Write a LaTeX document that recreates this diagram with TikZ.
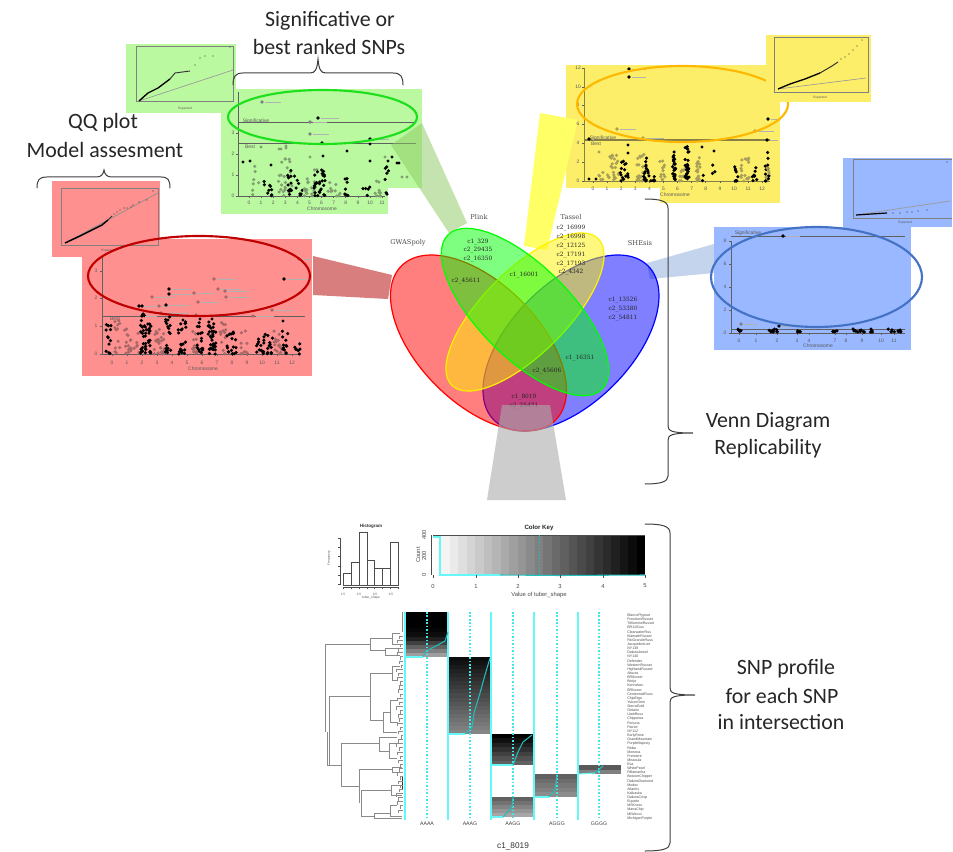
\documentclass[tikz,border=0pt]{standalone}
\usepackage{fontspec}
\setmainfont{Carlito}
\newfontfamily\vennf{DejaVu Serif}
\newfontfamily\arialf{Liberation Sans}
\definecolor{pred}{HTML}{FF9090}
\definecolor{pgreen}{HTML}{BBF9A0}
\definecolor{pyellow}{HTML}{FDEE6A}
\definecolor{pblue}{HTML}{99B8FF}
\definecolor{gred}{HTML}{A86868}
\definecolor{ggreen}{HTML}{80A070}
\definecolor{gyellow}{HTML}{A89F58}
\definecolor{axisg}{HTML}{606060}
\definecolor{qqg}{HTML}{808080}
\definecolor{cyanl}{HTML}{66F8F8}
\definecolor{cyand}{HTML}{40E8E8}
\definecolor{teal1}{HTML}{22BDBD}
\definecolor{dend}{HTML}{8A8A8A}
\definecolor{bracec}{HTML}{404040}
\definecolor{ellred}{HTML}{C00000}
\definecolor{ellgreen}{HTML}{1DE01D}
\definecolor{ellyellow}{HTML}{FFB800}
\definecolor{ellblue}{HTML}{4472C4}
\definecolor{wgreen}{HTML}{8CC860}
\definecolor{wred}{HTML}{C84848}
\definecolor{wblue}{HTML}{7FA0D8}
\definecolor{wyellow}{HTML}{FFFF66}
\definecolor{wgray}{HTML}{ACACAC}
\tikzset{
 x=.75pt,y=-.75pt,
 bigtxt/.style={font=\fontsize{16.4}{18}\selectfont,text=black!85,inner sep=0},
 vtxt/.style={font=\vennf\fontsize{4.4}{5}\selectfont,text=black!85,inner sep=0},
 vhead/.style={font=\vennf\fontsize{5}{6}\selectfont,text=black!70,inner sep=0},
 tick/.style={font=\arialf\fontsize{3.7}{4}\selectfont,text=black!65,inner sep=0},
 tinytick/.style={font=\arialf\fontsize{2.4}{3}\selectfont,text=black!65,inner sep=0},
 rowlab/.style={font=\arialf\fontsize{2.7}{3}\selectfont,text=black!70,inner sep=0,anchor=west},
 hmlab/.style={font=\arialf\fontsize{3.9}{4}\selectfont,text=black!75,inner sep=0},
 keylab/.style={font=\arialf\fontsize{4.4}{5}\selectfont,text=black!70,inner sep=0},
 brace/.style={draw=bracec,line width=.75pt,line cap=round},
 axl/.style={draw=axisg,line width=.55pt},
 qql/.style={draw=qqg,line width=.4pt},
 hml/.style={draw=cyanl,line width=.8pt},
 hmd/.style={draw=cyand,line width=.9pt,dash pattern=on 1.2pt off 1.4pt},
 trace/.style={draw=teal1,line width=.8pt},
 dl/.style={draw=dend,line width=.6pt},
 barl/.style={draw=black!70,line width=.5pt},
 vennline/.style={line width=.9pt,fill opacity=.5},
}
\newcommand{\band}[6]{\foreach \k in {1,...,#5}{\pgfmathsetmacro\xx{#1+#2*rand}\pgfmathsetmacro\yy{#3-#4*pow(rnd,1.5)}\fill[#6] (\xx,\yy) circle (1.75);}}
\newcommand{\lpt}[4]{\fill[#3] (#1,#2) circle (1.8);\draw[black!30,line width=.3pt] (#1+3,#2) -- ++(#4,0);}
% stepped heat block: x1, x2, y1, row count, row height, dark at top, dark at bottom
\newcommand{\hblock}[7]{\foreach \r in {1,...,#4}{\pgfmathsetmacro\gv{#6+(#7-#6)*(\r-1)/max(#4-1,1)}\fill[black!\gv!white] (#1,{#3+(\r-1)*#5}) rectangle (#2,{#3+\r*#5+.2});}}
\begin{document}
\begin{tikzpicture}
\pgfmathsetseed{4217}
\useasboundingbox (0,0) rectangle (953,852);
\fill[white] (0,0) rectangle (953,852);

%% ---- GREEN PANEL
\fill[pgreen] (126,44) rectangle (236,113);
\fill[pgreen] (236,89) rectangle (422,188);
\fill[pgreen] (221,113) rectangle (388,214);
\draw[qql] (136,46) rectangle (233,101);
\draw[black!40,line width=.5pt] (139,101) -- (233,70);
\draw[black,line width=1pt] (139,101) -- (148,93) -- (158,88) -- (170,79);
\draw[black!80,line width=.7pt] (170,79) -- (175,73) -- (190,71);
\foreach \a/\b in {195/65,200/58,205/56,213/56,230/47}{\fill[black!80] (\a,\b) circle (.6);}
\node[tinytick] (gqx) at (185,109) {Expected};
\draw[axl] (238,92) -- (238,196) -- (385,196);
\draw[axl] (238,122) -- (416,122);
\draw[axl] (238,143) -- (416,143);
\foreach \i in {0,...,11}{\draw[axl] ({249+\i*12.1},196) -- ++(0,2);\node[tick] (gx\i) at ({249+\i*12.1},203) {\i};}
\foreach \i/\yy in {0/196,1/175,2/154,3/133}{\draw[axl] (238,\yy) -- ++(-2,0);\node[tick] (gy\i) at (233,\yy) {\i};}
\node[tick] (gsig) at (256,121) {Significative};
\node[tick] (gbest) at (250,147) {Best};
\node[tick] (gchr) at (322,209) {Chromosome};
\band{255}{4}{196}{30}{7}{ggreen}
\band{268}{4}{196}{26}{9}{black}
\band{285}{7}{196}{38}{22}{ggreen}
\band{293}{6}{196}{26}{11}{black}
\band{297}{9}{196}{20}{9}{black}
\band{310}{7}{196}{30}{18}{ggreen}
\band{320}{6}{196}{30}{30}{black}
\band{334}{6}{196}{16}{10}{ggreen}
\band{346}{2}{196}{20}{8}{black}
\band{366}{4}{196}{14}{5}{black}
\band{378}{3}{196}{22}{9}{ggreen}
\band{388}{3}{196}{30}{7}{black}
\foreach \a/\b in {243/162,250/161,271/165,347/151,323/156,370/161,392/157,388/161,397/163,399/163,370/144}{\fill[black] (\a,\b) circle (1.7);}
\foreach \a/\b in {310/157,385/157,285/159,261/147,279/149,281/149,286/148,286/146,402/177,407/177}{\fill[ggreen] (\a,\b) circle (1.6);}
\lpt{262}{102}{gray}{16}\lpt{318}{118}{black}{18}\lpt{310}{122}{gray}{14}\lpt{310}{134}{gray}{16}\lpt{322}{143}{black}{18}\lpt{370}{139}{black}{16}
\draw[draw=ellgreen,line width=1.6pt] (322.5,117) ellipse [x radius=94.5,y radius=27];
\fill[wgreen,fill opacity=.5] (422,123) -- (467,223) -- (449,233) -- (391,145) -- cycle;

%% ---- RED PANEL
\fill[pred] (52,181) rectangle (160,257);
\fill[pred] (82,239) rectangle (312,376);
\draw[qql] (61,188) rectangle (158,245);
\draw[black!45,line width=.5pt] (65,243) -- (158,193);
\draw[black,line width=1.1pt] (65,243) -- (80,236) -- (92,230) -- (102,225) -- (108,220);
\draw[black!80,line width=.7pt] (108,220) -- (112,216);
\foreach \a/\b in {114/214,117/212,120/210,124/208,127/208,131/207,133/205,139/202,147/200,153/191}{\fill[black!80] (\a,\b) circle (.55);}
\node[tinytick] (rqx) at (108,251) {Expected};
\draw[axl] (102,257) -- (102,354) -- (300,354);
\draw[axl] (102,316) -- (305,316);
\foreach \i in {0,...,12}{\draw[axl] ({112+\i*15},354) -- ++(0,2);\node[tick] (rx\i) at ({112+\i*15},363) {\i};}
\foreach \i/\yy in {0/354,1/326,2/298,3/271}{\draw[axl] (102,\yy) -- ++(-2,0);\node[tick] (ry\i) at (96,\yy) {\i};}
\node[tick] (rbest) at (115,319) {Best};
\node[tick] (rchr) at (203,369) {Chromosome};
\band{109}{3}{354}{30}{12}{black}
\band{117}{3}{354}{34}{12}{gred}
\band{131}{8}{354}{26}{22}{gred}
\band{143}{3}{354}{40}{22}{black}
\band{148}{3}{354}{30}{20}{black}
\band{160}{6}{354}{26}{28}{gred}
\band{168}{3}{354}{38}{18}{black}
\band{182}{4}{354}{34}{20}{black}
\band{195}{3}{354}{26}{14}{gred}
\band{200}{3}{354}{32}{16}{black}
\band{212}{4}{354}{36}{34}{black}
\band{223}{3}{354}{34}{14}{gred}
\band{232}{5}{354}{24}{18}{black}
\band{243}{5}{354}{24}{10}{gred}
\band{260}{4}{354}{22}{14}{black}
\band{269}{4}{354}{20}{12}{black}
\band{278}{4}{354}{24}{16}{gred}
\band{285}{3}{354}{24}{12}{black}
\band{297}{3}{354}{14}{7}{black}
\lpt{169}{289}{black}{18}\lpt{169}{294}{black}{22}\lpt{284}{279}{black}{20}\lpt{214}{279}{gred}{18}\lpt{218}{289}{gred}{20}\lpt{225}{291}{gred}{20}\lpt{226}{297}{gred}{20}\lpt{152}{297}{gred}{18}
\lpt{194}{293}{gred}{18}\lpt{198}{302}{gred}{18}\lpt{139}{306}{black}{8}\lpt{142}{306}{black}{14}\lpt{159}{306}{gred}{6}\lpt{166}{305}{black}{20}\lpt{299}{259}{gred}{10}\lpt{272}{310}{gred}{18}\lpt{253}{316}{gred}{18}\lpt{196}{315}{gred}{18}\lpt{161}{313}{gred}{24}\lpt{142}{316}{black}{12}
\fill[black] (168,320) circle (1.7) (200,319) circle (1.7) (212,319) circle (1.7) (183,320) circle (1.7) (283,321) circle (1.7);
\draw[draw=ellred,line width=1.6pt] (199,276) ellipse [x radius=111,y radius=40];
\fill[wred,fill opacity=.7] (313,256) -- (392,275) -- (388,299) -- (313,295) -- cycle;

%% ---- YELLOW PANEL
\fill[pyellow] (566,65) rectangle (780,188);
\fill[pyellow] (660,180) rectangle (780,203);
\fill[wyellow] (540,113) -- (578,120) -- (547,250) -- (524,246) -- cycle;
\draw[axl,draw=gyellow!80!black] (584,68) -- (584,181) -- (770,181);
\draw[draw=gyellow!80!black,line width=1.5pt] (584,140) -- (770,140);
\foreach \i in {0,...,12}{\draw[axl] ({593+\i*14.1},181) -- ++(0,2);\node[tick] (yx\i) at ({593+\i*14.1},189) {\i};}
\foreach \i/\yy in {0/181,2/162,4/143,6/124,8/105,10/87,12/68}{\draw[axl] (584,\yy) -- ++(-2,0);\node[tick] (yy\i) at (578,\yy) {\i};}
\node[tick] (ysig) at (603,138) {Significative};
\node[tick] (ybest) at (596,144) {Best};
\node[tick] (ychr) at (675,195) {Chromosome};
\band{600}{3}{181}{14}{5}{gyellow}
\band{613}{6}{181}{26}{22}{gyellow}
\band{623}{3}{181}{22}{12}{black}
\band{628}{1}{181}{14}{3}{black}
\band{641}{4}{181}{32}{22}{gyellow}
\band{646}{3}{181}{26}{16}{black}
\band{653}{3}{181}{5}{6}{black}
\band{662}{3}{181}{22}{12}{gyellow}
\band{674}{1.5}{181}{32}{26}{black}
\band{682}{3}{181}{18}{9}{gyellow}
\band{687}{2}{181}{36}{28}{black}
\band{698}{2}{181}{26}{16}{gyellow}
\band{703}{1}{181}{8}{2}{black}
\band{714}{2}{181}{16}{3}{black}
\band{736}{2}{181}{16}{9}{black}
\band{745}{4}{181}{26}{16}{gyellow}
\band{755}{3}{181}{18}{9}{black}
\band{767}{2}{181}{34}{14}{black}
\band{767}{2}{181}{20}{5}{gyellow}
\fill[black] (628,145) circle (1.7) (628,153) circle (1.7) (702,147) circle (1.7) (714,151) circle (1.7) (589,179) circle (1.7) (596,179) circle (1.7);
\fill[gyellow] (599,152) circle (1.6);
\lpt{629}{69}{black}{14}\lpt{629}{77}{black}{14}\lpt{617}{129}{gyellow}{16}\lpt{643}{138}{gyellow}{18}\lpt{768}{119}{black}{8}\lpt{755}{131}{gyellow}{16}\lpt{589}{139}{black}{2}\lpt{767}{140}{black}{8}
\draw[draw=ellyellow,line width=1.6pt] (682.5,104) ellipse [x radius=105.5,y radius=38];
\fill[pyellow] (766,35) rectangle (871,102);
\draw[qql] (774,37) rectangle (868,92);
\draw[black!40,line width=.5pt] (778,89) -- (866,78);
\draw[black,line width=1pt] (778,89) -- (790,84) -- (805,79) -- (820,73);
\draw[black!85,line width=.7pt] (820,73) -- (832,66) -- (838,62);
\foreach \a/\b in {841/59,845/57,849/54,853/50,857/46,862/40}{\fill[black!80] (\a,\b) circle (.55);}
\node[tinytick] (yqx) at (820,98) {Expected};

%% ---- BLUE PANEL
\fill[wblue,fill opacity=.45] (714,244) -- (714,273) -- (650,279) -- (647,263) -- cycle;
\fill[pblue] (714,227) rectangle (911,350);
\fill[pblue] (843,158) rectangle (952,227);
\draw[axl] (731,241) -- (731,333) -- (905,333);
\draw[axl] (731,236) -- (905,236);
\draw[axl] (731,329) -- (905,329);
\foreach \i/\xx in {0/739,1/756,2/777,3/797,4/809,7/835,8/846,9/862,10/881,11/894}{\draw[axl] (\xx,333) -- ++(0,2);\node[tick] (bx\i) at (\xx,341) {\i};}
\foreach \i/\yy in {0/333,2/310,4/287,6/264,8/241}{\draw[axl] (731,\yy) -- ++(-2,0);\node[tick] (by\i) at (725,\yy) {\i};}
\node[tick] (bsig) at (748,233) {Significative};
\node[tick] (bchr) at (818,346) {Chromosome};
\foreach \a/\w in {739/2,772/3,775/3,798/3,835/5,855/4,862/3,872/2,892/5,899/2}{\band{\a}{\w}{332}{3}{5}{black}}
\lpt{783}{236}{black}{14}\lpt{779}{326}{black}{16}\lpt{741}{324}{gray}{14}
\draw[draw=ellblue,line width=1.6pt] (816.5,277) ellipse [x radius=105.5,y radius=50];
\draw[qql] (952,159) -- (853,159) -- (853,218) -- (952,218);
\draw[black!40,line width=.5pt] (856,215) -- (950,201);
\draw[black,line width=.9pt] (856,215) -- (887,213);
\foreach \a/\b in {893/213,900/213,907/212,912/212,918/211,927/210,947/162}{\fill[black!80] (\a,\b) circle (.55);}
\node[tinytick] (bqx) at (905,223) {Expected};

%% ---- VENN
\path[draw=blue,fill=blue,vennline,shift={(571,343)},rotate=45] (0,0) ellipse [x radius=109,y radius=60];
\path[draw=red,fill=red,vennline,shift={(478.5,343)},rotate=-45] (0,0) ellipse [x radius=109,y radius=60];
\path[draw=yellow,fill=yellow,vennline,shift={(525,312)},rotate=45] (0,0) ellipse [x radius=103.6,y radius=42];
\path[draw=green,fill=green,vennline,shift={(525,312)},rotate=-45] (0,0) ellipse [x radius=109,y radius=46];
\node[vhead] (hgwas) at (408,243) {GWASpoly};
\node[vhead] (hplink) at (479,217) {Plink};
\node[vhead] (htassel) at (571,217) {Tassel};
\node[vhead] (hshe) at (640,243) {SHEsis};
\node[vtxt] (t1) at (478,242) {c1\_329};
\node[vtxt] (t2) at (478,250) {c2\_29435};
\node[vtxt] (t3) at (478,259) {c2\_16350};
\node[vtxt] (t4) at (571,228) {c2\_16999};
\node[vtxt] (t5) at (571,237) {c2\_16998};
\node[vtxt] (t6) at (571,246) {c2\_12125};
\node[vtxt] (t7) at (571,255) {c2\_17191};
\node[vtxt] (t8) at (571,264) {c2\_17193};
\node[vtxt] (t9) at (571,272) {c2\_4342};
\node[vtxt] (t10) at (524,275) {c1\_16001};
\node[vtxt] (t11) at (466,281) {c2\_45611};
\node[vtxt] (t12) at (623,300) {c1\_13526};
\node[vtxt] (t13) at (623,309) {c2\_53380};
\node[vtxt] (t14) at (623,318) {c2\_54811};
\node[vtxt] (t15) at (580,358) {c1\_16351};
\node[vtxt] (t16) at (547,371) {c2\_45606};
\node[vtxt] (t17) at (524,397) {c1\_8019};
\node[vtxt] (t18) at (524,406) {c2\_25471};
\fill[wgray,fill opacity=.6] (502,405) -- (550,405) -- (566,500) -- (487,500) -- cycle;

%% ---- BRACES
\draw[brace] (37,188) .. controls (37,180) and (39,177) .. (47,177) -- (96,177) .. controls (101,177) and (103,175) .. (104,170) .. controls (105,175) and (107,177) .. (112,177) -- (161,177) .. controls (168,177) and (170,180) .. (170,188);
\draw[brace] (233,85) .. controls (233,77) and (235,73) .. (243,73) -- (310,73) .. controls (315,73) and (317,70) .. (318,59) .. controls (319,70) and (321,73) .. (326,73) -- (393,73) .. controls (401,73) and (403,77) .. (403,85);
\draw[brace] (645,199) .. controls (660,199) and (668,201) .. (668,208) -- (668,426) .. controls (668,431) and (672,433) .. (693,433) .. controls (672,433) and (668,435) .. (668,440) -- (668,476) .. controls (668,482) and (660,484) .. (645,484);
\draw[brace] (645,524) .. controls (662,524) and (670,526) .. (670,533) -- (670,688) .. controls (670,693) and (674,695) .. (695,695) .. controls (674,695) and (670,697) .. (670,702) -- (670,843) .. controls (670,849) and (662,851) .. (645,851);

%% ---- BIG TEXT
\node[bigtxt] (s1) at (330,21) {Significative or};
\node[bigtxt] (s2) at (329,47) {best ranked SNPs};
\node[bigtxt] (q1) at (103,123) {QQ plot};
\node[bigtxt] (q2) at (105,150) {Model assesment};
\node[bigtxt] (v1) at (768,422) {Venn Diagram};
\node[bigtxt] (v2) at (768,449) {Replicability};
\node[bigtxt] (p1) at (786,669) {SNP profile};
\node[bigtxt] (p2) at (782,696) {for each SNP};
\node[bigtxt] (p3) at (781,722) {in intersection};

%% ---- HISTOGRAM
\node[font=\arialf\bfseries\fontsize{3.4}{4}\selectfont,inner sep=0,text=black!80] (htitle) at (371,526) {Histogram};
\draw[barl] (343,573) rectangle (351,585);
\draw[barl] (351,562) rectangle (359,585);
\draw[barl] (359,532) rectangle (367,585);
\draw[barl] (367,560) rectangle (374,585);
\draw[barl] (374,568) rectangle (382,585);
\draw[barl] (382,568) rectangle (390,585);
\draw[barl] (390,542) rectangle (398,585);
\draw[barl,line width=.35pt] (340,538) -- (340,585);
\draw[barl,line width=.35pt] (343,587) -- (398,587);
\foreach \yy in {538,547,556,566,575,584}{\draw[barl,line width=.35pt] (340,\yy) -- ++(-2,0);}
\foreach \xx in {343,351,359,367,374,382,390,398}{\draw[barl,line width=.35pt] (\xx,587) -- ++(0,1.5);}
\foreach \l/\xx in {1.5/343,2.5/359,3.5/375,4.5/391}{\node[tinytick] (hx\l) at (\xx,594) {\l};}
\node[tinytick] (hxl) at (371,598) {tuber\_shape};
\node[tinytick,rotate=90] (hyl) at (329,558) {Frequency};

%% ---- COLOR KEY
\foreach \i in {0,...,24}{\pgfmathsetmacro\gv{\i*100/24}\fill[black!\gv!white] ({433+\i*8.48},535) rectangle ({433+(\i+1)*8.48+.2},575);}
\draw[barl,line width=.35pt] (433,535) -- (645,535);
\draw[draw=cyanl,line width=.8pt] (433,537) -- (440,537) -- (440,575) -- (500,575);
\draw[draw=teal1,line width=.8pt] (500,575) -- (560,575.5) -- (645,575);
\draw[draw=teal1,line width=.6pt,dash pattern=on 1.2pt off 1.2pt] (539,535) -- (539,575);
\node[font=\arialf\bfseries\fontsize{4.6}{5}\selectfont,inner sep=0,text=black!85] (ctitle) at (539,528) {Color Key};
\foreach \l/\xx in {0/433,1/476,2/518,3/560,4/603,5/645}{\draw[barl,line width=.35pt] (\xx,575) -- ++(0,2.5);\node[keylab] (cx\l) at (\xx,586) {\l};}
\node[keylab] (cxl) at (539,595) {Value of tuber\_shape};
\foreach \l/\yy in {0/575,200/556,400/535}{\node[keylab,rotate=90] (cy\l) at (424,\yy) {\l};}
\node[keylab,rotate=90] (cyl) at (418,555) {Count};
\draw[barl,line width=.35pt] (431,535) -- (431,575);

%% ---- HEATMAP
\foreach \r/\gv in {0/100,1/100,2/100,3/100,4/98,5/95,6/88,7/75,8/62,9/50,10/38}{\fill[black!\gv!white] (405,{612+\r*4.09}) rectangle (448,{612+(\r+1)*4.09+.2});}
\hblock{448}{491}{657}{19}{4.05}{95}{48}
\hblock{491}{534}{734}{7}{4.43}{100}{62}
\hblock{578}{621}{765}{2}{4.5}{65}{50}
\hblock{534}{578}{774}{5}{4.6}{62}{45}
\hblock{491}{534}{797}{5}{4.0}{62}{35}
\foreach \xx in {405,448,491,534,578}{\draw[hml] (\xx,612) -- (\xx,820);}
\foreach \xx in {427,470,513,557,599}{\draw[hmd] (\xx,612) -- (\xx,820);}
\draw[trace] (423,657) -- (426,651) -- (436,646) -- (445,641) -- (448,632);
\draw[hml] (405,657) -- (423,657);
\draw[hml] (448,734) -- (465,734);
\draw[trace] (465,734) -- (472,727) -- (474,713) -- (480,693) -- (485,675) -- (490,658);
\draw[hml] (491,765) -- (513,765);
\draw[trace] (513,765) -- (518,752) -- (523,742) -- (532,735);
\draw[hml] (578,774) -- (595,773);
\draw[trace] (595,773) -- (603,766);
\draw[hml] (534,797) -- (549,797);
\draw[trace] (549,797) -- (555,790) -- (557,774);
\draw[hml] (491,817) -- (503,817);
\draw[trace] (503,817) -- (512,807) -- (513,797);
\foreach \l/\xx in {AAAA/427,AAAG/470,AAGG/513,AGGG/557,GGGG/599}{\node[hmlab] (hm\l) at (\xx,824) {\l};}
\node[font=\arialf\fontsize{6.2}{7}\selectfont,inner sep=0,text=black!80] (hmtitle) at (513,846) {c1\_8019};

%% ---- DENDROGRAM
\draw[dl] (370,638) -- (370,650);
\draw[dl] (325,732) -- (325,644) -- (370,644);
\draw[dl] (327,732) -- (327,765) -- (341,765);
\draw[dl] (329,765) -- (329,696) -- (370,696);
\draw[dl] (392,638) -- (370,638);
\draw[dl] (370,650) -- (385,650);
\draw[dl] (400,633) -- (392,633) -- (392,644) -- (400,644);
\draw[dl] (400,648) -- (385,648) -- (385,655) -- (400,655);
\draw[dl] (392,673) -- (370,673) -- (370,720) -- (383,720);
\draw[dl] (400,666) -- (392,666) -- (392,680) -- (398,680);
\draw[dl] (383,712) -- (383,732) -- (397,732);
\draw[dl] (383,712) -- (390,712);
\draw[dl] (397,700) -- (390,700) -- (390,722) -- (398,722);
\draw[dl] (341,743) -- (341,786) -- (359,786);
\draw[dl] (341,743) -- (379,743);
\draw[dl] (397,737) -- (379,737) -- (379,751) -- (389,751);
\draw[dl] (402,743) -- (389,743) -- (389,758) -- (397,758);
\draw[dl] (359,769) -- (359,803);
\draw[dl] (359,769) -- (392,769);
\draw[dl] (402,767) -- (392,767) -- (392,772) -- (402,772);
\draw[dl] (361,790) -- (391,790);
\draw[dl] (361,790) -- (361,816) -- (374,816);
\draw[dl] (402,785) -- (391,785) -- (391,795) -- (402,795);
\draw[dl] (374,813) -- (374,818) -- (402,818);
\draw[dl] (374,813) -- (390,813);
\draw[dl] (397,805) -- (390,805) -- (390,816) -- (402,816);
\draw[dl] (402,612) -- (402,632);
\draw[draw=black!80,line width=.7pt] (402,777) -- (402,790);
\foreach \i/\w in {5/4,6/6,7/3,8/5,9/6,10/3,11/4,12/2,13/7,14/5,15/6,16/3,17/4,18/5,19/3,20/6,21/4,22/7,23/3,24/5,25/4,26/6,27/3,28/5,29/2,30/5,31/7,32/4,33/6,34/3,35/5,36/3,37/4,38/6,39/3,40/5,41/3,42/4,43/7,44/5,45/6,46/3,47/5}{
 \pgfmathsetmacro\yy{615.3+\i*4.14}
 \pgfmathsetmacro\xl{403-\w}
 \draw[dl,line width=.5pt] (\xl,\yy) -- (403,\yy);
 \draw[dl,line width=.5pt] (\xl,\yy) -- (\xl,\yy+3.2);
}

%% ---- ROW LABELS
\foreach \n [count=\c from 0] in {BlancoPlypsot,FreedomRusset,TéllumineRusset,BR1101us,ClearwaterRus,KlamathRusset,RioGrandeRuss,JacquelineLee,NY138,DakotaJewel,NY140,Defender,WesternRusset,HighlandRusset,Alturas,BR8xxxer,Bintje,Kennebec,BRfxxxer,CentennialRuss,ChipEtgo,YukonGem,SierraGold,Ontario,UtahRuss,Chippewa,Fortuna,Patriot,NY112,EarlyRose,GrandMountain,PurpleMajesty,Reba,Monona,Premiere,Missoula,Eva,WhitePearl,Rillamanha,BeaconChipper,DakotaDiamond,Modoc,Atlantis,Kalkaska,DakotaCrisp,Eupatin,MSKxxxx,ManaChip,MIWxxxx,MichiganPurple}{
 \pgfmathsetmacro\yy{615.3+\c*4.14}
 \node[rowlab] (row\c) at (627,\yy) {\n};
}
\end{tikzpicture}
\end{document}
